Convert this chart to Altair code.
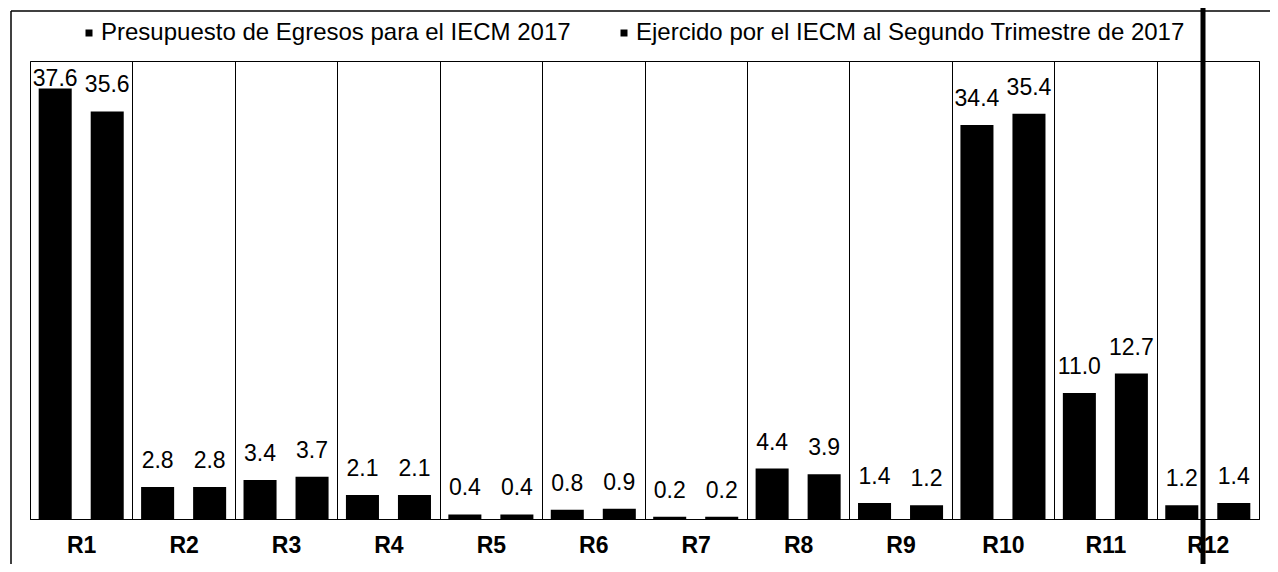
import altair as alt
import pandas as pd

regions = ["R1", "R2", "R3", "R4", "R5", "R6", "R7", "R8", "R9", "R10", "R11", "R12"]
presupuesto = [37.6, 2.8, 3.4, 2.1, 0.4, 0.8, 0.2, 4.4, 1.4, 34.4, 11.0, 1.2]
ejercido = [35.6, 2.8, 3.7, 2.1, 0.4, 0.9, 0.2, 3.9, 1.2, 35.4, 12.7, 1.4]
series = [
    "Presupuesto de Egresos para el IECM 2017",
    "Ejercido por el IECM al Segundo Trimestre de 2017",
]

rows = []
for r, a, b in zip(regions, presupuesto, ejercido):
    rows.append({"region": r, "serie": series[0], "valor": a})
    rows.append({"region": r, "serie": series[1], "valor": b})
df = pd.DataFrame(rows)

FONT = "Liberation Sans"

base = alt.Chart(df).encode(
    x=alt.X(
        "region:N",
        sort=regions,
        scale=alt.Scale(paddingInner=0, paddingOuter=0),
        axis=alt.Axis(
            title=None,
            labelAngle=0,
            ticks=False,
            grid=True,
            tickBand="extent",
            gridColor="black",
            gridOpacity=1,
            gridWidth=1,
            domainColor="black",
            labelColor="black",
            labelFont=FONT,
            labelFontSize=23,
            labelFontWeight="bold",
            labelPadding=15,
        ),
    ),
    xOffset=alt.XOffset(
        "serie:N", sort=series, scale=alt.Scale(paddingInner=0.365, paddingOuter=0.167)
    ),
)

bars = base.mark_bar(color="black").encode(
    y=alt.Y("valor:Q", scale=alt.Scale(domain=[0, 40], nice=False), axis=None),
    color=alt.Color(
        "serie:N",
        sort=series,
        scale=alt.Scale(domain=series, range=["#000000", "#000000"]),
        legend=alt.Legend(
            title=None,
            orient="none",
            legendX=47,
            legendY=-40,
            direction="horizontal",
            symbolType="square",
            symbolSize=49,
            symbolStrokeWidth=0,
            labelFont=FONT,
            labelFontSize=24,
            labelColor="black",
            labelLimit=0,
            labelOffset=0,
            columnPadding=41,
            padding=0,
        ),
    ),
)

labels = base.transform_calculate(
    label_pos="min(datum.valor, 36.2)"
).mark_text(
    dy=-19, baseline="alphabetic", fontSize=23, font=FONT, color="black"
).encode(
    y=alt.Y("label_pos:Q", scale=alt.Scale(domain=[0, 40], nice=False), axis=None),
    text=alt.Text("valor:Q", format=".1f"),
)

one = pd.DataFrame({"k": [0]})
top_line = alt.Chart(one).mark_rule(color="black", strokeWidth=1.5).encode(
    x=alt.value(-19), x2=alt.value(1250), y=alt.value(-50)
)
left_line = alt.Chart(one).mark_rule(color="black", strokeWidth=1.5).encode(
    x=alt.value(-19), y=alt.value(-50), y2=alt.value(515)
)
edge_line = alt.Chart(one).mark_rule(color="black", strokeWidth=5).encode(
    x=alt.value(1173), y=alt.value(-61), y2=alt.value(515)
)

chart = (
    alt.layer(bars, labels, top_line, left_line, edge_line)
    .properties(
        width=1229,
        height=458,
        autosize=alt.AutoSizeParams(type="none"),
        padding={"left": 22, "top": 53, "right": 11, "bottom": 45},
        background="white",
    )
    .configure_view(stroke="black", strokeWidth=1)
)

chart.save("out.html", embed_options={"renderer": "svg", "actions": False})
